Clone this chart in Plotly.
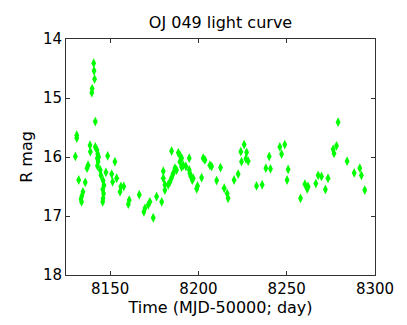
import plotly.graph_objects as go

# light curve points (MJD-50000, R magnitude)
days = [8130.3, 8131.1, 8131.1, 8132.2, 8133.5, 8133.8, 8134.0, 8134.6, 8135.9, 8136.9,
        8137.5, 8138.6, 8138.8, 8139.6, 8139.8, 8140.7, 8140.9, 8141.2, 8141.6, 8141.6,
        8142.5, 8142.7, 8143.0, 8143.2, 8142.8, 8143.5, 8144.4, 8144.8, 8145.8, 8146.0,
        8146.5, 8146.3, 8146.0, 8145.8, 8147.6, 8148.6, 8150.9, 8151.4, 8152.7, 8153.7,
        8155.6, 8156.1, 8157.7, 8160.3, 8160.8, 8166.5, 8169.1, 8169.7, 8171.6, 8172.5,
        8174.4, 8176.3, 8179.2, 8180.1, 8180.1, 8181.0, 8181.0, 8182.9, 8183.9, 8184.8,
        8185.7, 8186.7, 8187.6, 8184.8, 8188.6, 8189.5, 8190.5, 8189.5, 8191.4, 8190.5,
        8192.9, 8194.8, 8194.8, 8195.2, 8195.7, 8196.5, 8197.0, 8199.0, 8199.5, 8201.8,
        8202.7, 8203.7, 8206.5, 8207.5, 8210.3, 8212.5, 8214.6, 8216.3, 8216.8, 8220.2,
        8222.5, 8224.0, 8224.4, 8225.9, 8226.9, 8227.3, 8228.2, 8232.9, 8236.1, 8238.2,
        8240.1, 8240.8, 8246.1, 8247.1, 8248.9, 8250.2, 8250.8, 8257.8, 8260.3, 8261.6,
        8262.1, 8266.5, 8267.8, 8269.7, 8271.9, 8273.4, 8276.3, 8276.8, 8278.2, 8279.1,
        8284.2, 8288.2, 8291.4, 8292.3, 8294.2]
rmag = [15.99, 15.63, 15.68, 16.39, 16.71, 16.76, 16.66, 16.59, 16.43, 16.19,
        16.14, 15.80, 15.91, 14.91, 14.84, 14.41, 14.54, 14.68, 15.40, 15.83,
        15.88, 16.02, 15.95, 16.08, 16.15, 16.00, 16.22, 16.31, 16.55, 16.40,
        16.48, 16.62, 16.70, 16.76, 16.26, 15.98, 16.29, 16.42, 16.08, 16.36,
        16.59, 16.50, 16.50, 16.80, 16.73, 16.64, 16.93, 16.87, 16.81, 16.76,
        17.03, 16.67, 16.76, 16.24, 16.36, 16.47, 16.56, 16.47, 16.42, 16.35,
        16.28, 16.19, 16.22, 15.90, 15.93, 15.97, 16.02, 16.08, 16.14, 16.17,
        16.16, 16.02, 16.22, 16.28, 16.33, 16.39, 16.36, 16.54, 16.49, 16.35,
        16.02, 16.05, 16.14, 16.16, 16.40, 16.18, 16.53, 16.62, 16.70, 16.39,
        16.29, 15.91, 16.08, 15.79, 16.03, 15.92, 16.07, 16.49, 16.47, 16.19,
        15.99, 16.20, 15.83, 15.95, 15.79, 16.39, 16.21, 16.70, 16.46, 16.54,
        16.50, 16.45, 16.31, 16.33, 16.55, 16.36, 15.87, 15.94, 15.81, 15.41,
        16.07, 16.27, 16.19, 16.31, 16.56]

xticks = [8150, 8200, 8250, 8300]
yticks = [14, 15, 16, 17, 18]

fig = go.Figure(go.Scatter(x=days, y=rmag, mode='markers',
                           marker=dict(symbol='diamond-tall', size=7, color='#00ff00',
                                       line=dict(width=0))))

# page body adds an 8px margin, so the figure is a bit smaller than the window
fig.update_layout(width=391, height=309,
                  margin=dict(l=58, r=24, t=31, b=42),
                  plot_bgcolor='white', paper_bgcolor='white',
                  font=dict(family='DejaVu Sans', size=15, color='black'),
                  showlegend=False,
                  title=dict(text='OJ 049 light curve', x=0.5, xanchor='center',
                             xref='paper', y=0.955, yanchor='middle', yref='container',
                             font=dict(size=16)))

axis_style = dict(showline=True, linecolor='#333333', linewidth=1, mirror='ticks',
                  ticks='inside', ticklen=4, tickcolor='#333333', showgrid=False,
                  zeroline=False, automargin=False, tickfont=dict(size=15))
fig.update_xaxes(range=[8125, 8300], tickvals=xticks,
                 title=dict(text='Time (MJD-50000; day)', font=dict(size=16), standoff=0),
                 **axis_style)
fig.update_yaxes(range=[18, 14], tickvals=yticks,
                 title=dict(text='R mag', font=dict(size=16), standoff=6),
                 **axis_style)

fig.write_html("out.html")
